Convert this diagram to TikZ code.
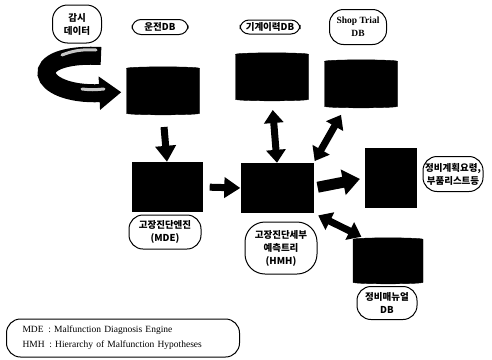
\documentclass[tikz,border=0pt]{standalone}
\usepackage{fontspec}
\setmainfont{Liberation Serif}
\newfontfamily\kofont{Noto Sans CJK KR}
\usetikzlibrary{shapes.geometric,arrows.meta}

\begin{document}
\begin{tikzpicture}[x=1pt, y=-1pt,
    db/.style={cylinder, shape border rotate=90, aspect=0.45, fill=black, draw=black, minimum width=73pt, minimum height=48pt},
    blk/.style={fill=black, minimum width=71pt, minimum height=50pt},
    tag/.style={draw, line width=1pt, rounded corners=9pt, align=center, inner sep=1pt, font=\kofont\bfseries\fontsize{9.5}{13}\selectfont},
    arr/.style={line width=7pt, -{Triangle[width=20pt,length=16pt]}},
    darr/.style={line width=7pt, {Triangle[width=19pt,length=13pt]}-{Triangle[width=19pt,length=13pt]}},
    shine/.style={gray!45, line width=3pt, line cap=round}
]
\useasboundingbox (0,0) rectangle (492,359);

% data bases
\node[db] (opDB) at (163,92) {};
\node[db] (histDB) at (272,78) {};
\node[db] (shopDB) at (361,85) {};
\node[db, minimum height=46pt, minimum width=70pt] (manDB) at (388,262) {};

% engine and tree
\node[blk] (mde) at (167,187) {};
\node[blk, minimum width=73pt] (hmh) at (277,188) {};
\node[blk, minimum width=52pt, minimum height=60pt] (plan) at (391,178) {};

% labels
\node[tag, rounded corners=15pt, minimum width=49pt, minimum height=38pt] (monTag) at (77,24) {감시\\데이터};
\node[tag, minimum width=56pt, minimum height=15pt] (opTag) at (160,27) {운전DB};
\node[tag, minimum width=60pt, minimum height=14pt] (histTag) at (270,27) {기계이력DB};
\node[tag, rounded corners=14pt, minimum width=57pt, minimum height=35pt, font=\bfseries\fontsize{9.5}{13}\selectfont] (shopTag) at (358,27) {Shop Trial\\DB};
\node[tag, rounded corners=14pt, minimum width=72pt, minimum height=34pt] (mdeTag) at (165,232) {고장진단엔진\\(MDE)};
\node[tag, rounded corners=20pt, minimum width=72pt, minimum height=52pt] (hmhTag) at (281,248) {고장진단세부\\예측트리\\(HMH)};
\node[tag, rounded corners=14pt, minimum width=60pt, minimum height=35pt] (planTag) at (453,174) {정비계획요령,\\부품리스트등};
\node[tag, rounded corners=14pt, minimum width=60pt, minimum height=33pt] (manTag) at (387,303) {정비매뉴얼\\DB};

% legend
\node[draw, line width=1pt, rounded corners=14pt, minimum height=38pt, text width=201pt, align=left, inner xsep=16pt, font=\fontsize{9.5}{15}\selectfont] (legend) at (123,338)
  {MDE\enspace: Malfunction Diagnosis Engine\\HMH\enspace: Hierarchy of Malfunction Hypotheses};

% monitoring data flow
\coordinate (swStart) at (101,56);
\draw[line width=18pt, -{Triangle[width=32pt,length=22pt]}, shorten >=5pt] (swStart) .. controls (22,52) and (35,96) .. (opDB.west);
\draw[shine] (96,50) .. controls (82,49) and (72,51) .. (62,55);
\draw[shine] (82,89) .. controls (92,90) .. (104,89);

% arrows
\draw[arr, shorten <=12pt] (opDB.south) -- (mde.north);
\draw[arr, shorten <=7pt] (mde.east) -- (hmh.west);
\draw[arr, line width=11pt, -{Triangle[width=25pt,length=17pt]}, shorten <=4pt, shorten >=5pt] (hmh.east) -- (plan.west);
\draw[darr, shorten <=9pt] (histDB.south) -- (hmh.north);
\draw[darr, shorten <=2pt, shorten >=8pt] (hmh.north east) -- (shopDB.235);
\draw[darr, shorten <=5pt, shorten >=3pt] (hmh.south east) -- (manDB.north west);
\end{tikzpicture}
\end{document}
